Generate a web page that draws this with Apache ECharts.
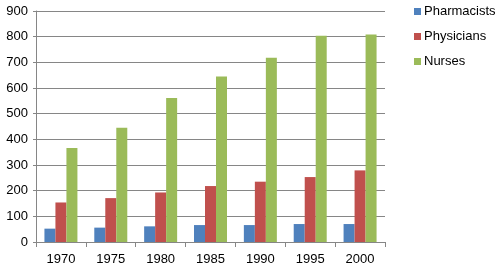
<!DOCTYPE html>
<html><head><meta charset="utf-8">
<script src="https://cdn.jsdelivr.net/npm/echarts@6/dist/echarts.min.js"></script>
<style>html,body{margin:0;padding:0;background:#fff}#c{width:500px;height:270px}</style>
</head><body><div id="c"></div>
<script>
const categories = ['1970','1975','1980','1985','1990','1995','2000'];
const pharmacists = [52, 56, 61, 66, 66, 70, 70];
const physicians = [154, 171, 193, 218, 235, 253, 279];
const nurses = [366, 445, 561, 645, 718, 804, 808];
const seriesNames = ['Pharmacists','Physicians','Nurses'];
const colors = ['#4F81BD','#C0504D','#9BBB59'];

const chart = echarts.init(document.getElementById('c'));
const font = 'Liberation Sans, Arial, sans-serif';
chart.setOption({
  animation: false,
  color: colors,
  textStyle: {fontFamily: font},
  grid: {left: 36, right: 115, top: 11, bottom: 28, containLabel: false},
  legend: {
    orient: 'vertical', left: 414, top: 5, padding: 0,
    itemWidth: 7, itemHeight: 7, itemGap: 12,
    icon: 'rect',
    textStyle: {fontFamily: font, fontSize: 13, color: '#000', padding: [0,0,0,-2]},
    data: seriesNames
  },
  xAxis: {
    type: 'category', data: categories,
    axisLine: {lineStyle: {color: '#868686'}},
    axisTick: {show: true, length: 5, lineStyle: {color: '#868686'}},
    axisLabel: {color: '#000', fontSize: 13, fontFamily: font, margin: 11}
  },
  yAxis: {
    type: 'value', min: 0, max: 900, interval: 100,
    axisLine: {show: true, lineStyle: {color: '#868686'}},
    axisTick: {show: true, length: 3, lineStyle: {color: '#868686'}},
    splitLine: {lineStyle: {color: '#868686'}},
    axisLabel: {color: '#000', fontSize: 13, fontFamily: font, margin: 8}
  },
  series: [
    {name: seriesNames[0], type: 'bar', data: pharmacists, barWidth: 11, barGap: '0%'},
    {name: seriesNames[1], type: 'bar', data: physicians, barWidth: 11, barGap: '0%'},
    {name: seriesNames[2], type: 'bar', data: nurses, barWidth: 11, barGap: '0%'}
  ]
});
</script></body></html>
